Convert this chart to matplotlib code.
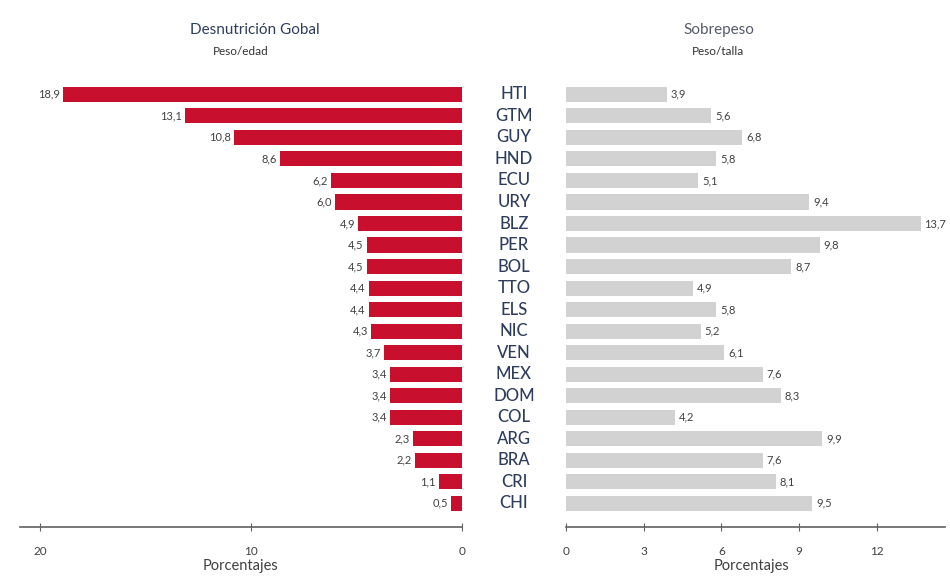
import matplotlib
matplotlib.use('Agg')
import matplotlib.pyplot as plt
from matplotlib.transforms import blended_transform_factory

plt.rcParams['font.family'] = ['Lato', 'DejaVu Sans']

countries = ['HTI', 'GTM', 'GUY', 'HND', 'ECU', 'URY', 'BLZ', 'PER', 'BOL', 'TTO',
             'ELS', 'NIC', 'VEN', 'MEX', 'DOM', 'COL', 'ARG', 'BRA', 'CRI', 'CHI']
desnutricion = [18.9, 13.1, 10.8, 8.6, 6.2, 6.0, 4.9, 4.5, 4.5, 4.4,
                4.4, 4.3, 3.7, 3.4, 3.4, 3.4, 2.3, 2.2, 1.1, 0.5]
sobrepeso = [3.9, 5.6, 6.8, 5.8, 5.1, 9.4, 13.7, 9.8, 8.7, 4.9,
             5.8, 5.2, 6.1, 7.6, 8.3, 4.2, 9.9, 7.6, 8.1, 9.5]
left_ticks = [20, 10, 0]
right_ticks = [0, 3, 6, 9, 12]

red = '#c8102e'
grey_bar = '#d2d2d2'
txt = '#404040'
navy = '#2e3d5c'

fig = plt.figure(figsize=(9.5, 5.77), dpi=100)
ax1 = fig.add_axes([0.021, 0.0867, 0.465, 0.774])
ax2 = fig.add_axes([0.596, 0.0867, 0.399, 0.774])

ypos = list(range(len(countries)))


def fmt(v):
    return ('%.1f' % v).replace('.', ',')


def style(ax, ticks):
    for s in ['top', 'right', 'left']:
        ax.spines[s].set_visible(False)
    ax.spines['bottom'].set_color('#606060')
    ax.spines['bottom'].set_linewidth(1.2)
    ax.set_yticks([])
    ax.set_xticks(ticks)
    ax.tick_params(axis='x', direction='inout', length=6, color='#606060',
                   labelsize=8.5, labelcolor=txt, pad=11)
    ax.set_ylim(20.1, -0.65)
    ax.set_xlabel('Porcentajes', fontsize=10.5, color=txt)


# left panel
ax1.barh(ypos, desnutricion, height=0.7, color=red)
ax1.set_xlim(20.95, 0)
style(ax1, left_ticks)
ax1.xaxis.set_label_coords(0.5, -0.072)
for y, v in zip(ypos, desnutricion):
    ax1.text(v + 0.15, y, fmt(v), ha='right', va='center', fontsize=8, color=txt)

# right panel
ax2.barh(ypos, sobrepeso, height=0.7, color=grey_bar)
ax2.set_xlim(0, 14.65)
style(ax2, right_ticks)
ax2.xaxis.set_label_coords(0.49, -0.072)
for y, v in zip(ypos, sobrepeso):
    ax2.text(v + 0.15, y, fmt(v), ha='left', va='center', fontsize=8, color=txt)

# country labels between panels
tr = blended_transform_factory(fig.transFigure, ax1.transData)
for y, c in zip(ypos, countries):
    fig.text(0.541, y, c, transform=tr, ha='center', va='center',
             fontsize=12, fontweight='medium', color=navy)

fig.text(0.268, 0.948, 'Desnutrición Gobal', ha='center', va='center', fontsize=11, color=navy)
fig.text(0.253, 0.91, 'Peso/edad', ha='center', va='center', fontsize=8.5, color='#333333')
fig.text(0.757, 0.948, 'Sobrepeso', ha='center', va='center', fontsize=11, color='#555a6a')
fig.text(0.756, 0.91, 'Peso/talla', ha='center', va='center', fontsize=8.5, color='#333333')

fig.savefig('out.png', dpi=100)
